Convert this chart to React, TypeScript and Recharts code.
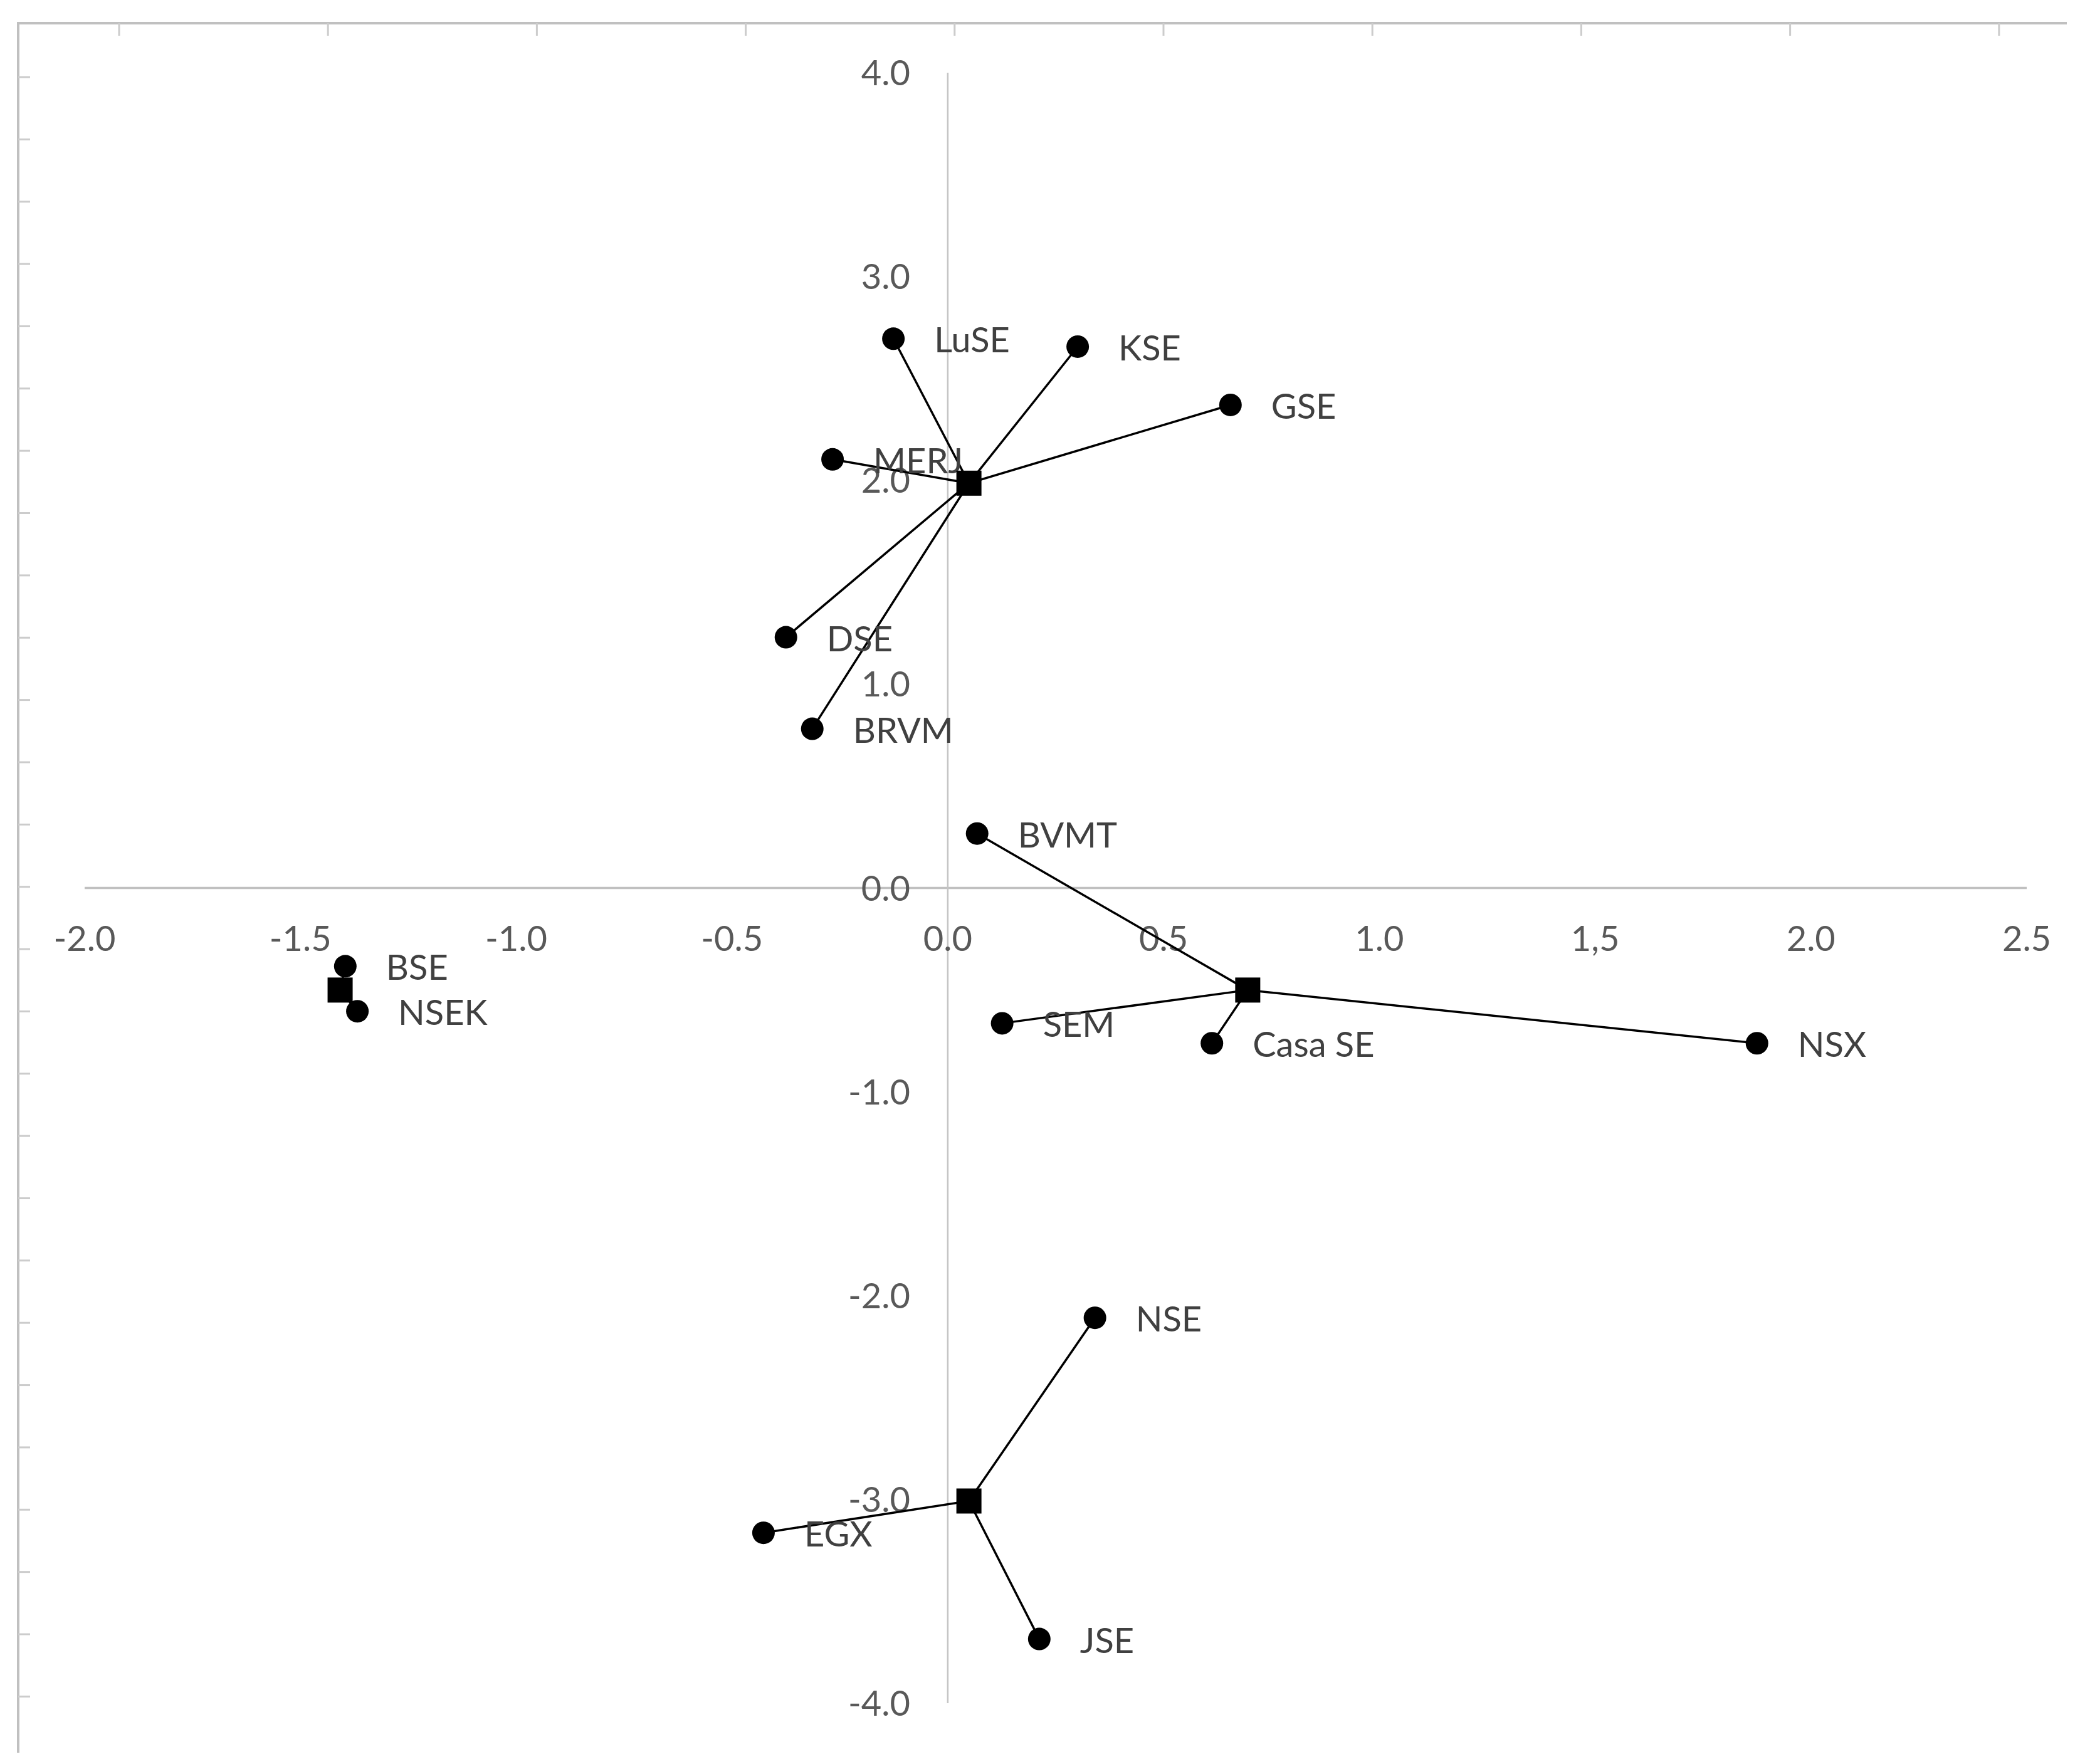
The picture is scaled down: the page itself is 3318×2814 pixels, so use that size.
import React from "react";
import {
  ReferenceDot,
  ReferenceLine,
  Scatter,
  ScatterChart,
  XAxis,
  YAxis,
} from "recharts";

// exchanges and their coordinates on the two dimensions
const exchanges = [
  "LuSE", "KSE", "GSE", "MERJ", "DSE", "BRVM",
  "BVMT", "SEM", "Casa SE", "NSX",
  "BSE", "NSEK",
  "NSE", "EGX", "JSE",
];
const dim1 = [
  -0.126, 0.301, 0.655, -0.267, -0.375, -0.314,
  0.068, 0.126, 0.612, 1.875,
  -1.396, -1.368,
  0.341, -0.427, 0.212,
];
const dim2 = [
  2.695, 2.656, 2.37, 2.103, 1.23, 0.781,
  0.267, -0.664, -0.762, -0.762,
  -0.384, -0.605,
  -2.109, -3.164, -3.685,
];
const clusterOf = [0, 0, 0, 0, 0, 0, 1, 1, 1, 1, 2, 2, 3, 3, 3];

// cluster centres (squares)
const centreX = [0.049, 0.695, -1.408, 0.049];
const centreY = [1.986, -0.501, -0.501, -3.008];

const xTicks = [-2, -1.5, -1, -0.5, 0, 0.5, 1, 1.5, 2, 2.5];
const xTickLabels = ["-2.0", "-1.5", "-1.0", "-0.5", "0.0", "0.5", "1.0", "1,5", "2.0", "2.5"];
const yTicks = [4, 3, 2, 1, 0, -1, -2, -3, -4];
const yTickLabels = ["4.0", "3.0", "2.0", "1.0", "0.0", "-1.0", "-2.0", "-3.0", "-4.0"];

const W = 3318;
const H = 2814;
const FONT = "Lato, 'Open Sans', sans-serif";
const FS = 56;
const HALF_CAP = 20; // baseline shift so caps sit centred on a y position

const points = exchanges.map((name, i) => ({ name, x: dim1[i], y: dim2[i] }));
const centres = centreX.map((x, c) => ({ x, y: centreY[c] }));

// one zig-zag path per cluster: centre -> point -> centre -> point ...
const stars = centres.map((c, k) => {
  const path: { x: number; y: number }[] = [];
  exchanges.forEach((_, i) => {
    if (clusterOf[i] === k) {
      path.push({ x: c.x, y: c.y });
      path.push({ x: dim1[i], y: dim2[i] });
    }
  });
  return path;
});

// the grey ruler frame around the scanned figure
function Frame() {
  const topTicks = Array.from({ length: 10 }, (_, k) => 190 + 333.2 * k);
  const leftTicks = Array.from({ length: 27 }, (_, k) => 123 + 99.36 * k);
  return (
    <svg width={W} height={H} style={{ position: "absolute", left: 0, top: 0 }}>
      <line x1={29} y1={37} x2={3297} y2={37} stroke="#c0c0c0" strokeWidth={4} />
      <line x1={29} y1={35} x2={29} y2={2796} stroke="#c0c0c0" strokeWidth={4} />
      {topTicks.map((x) => (
        <line key={x} x1={x} y1={37} x2={x} y2={57} stroke="#cccccc" strokeWidth={3} />
      ))}
      {leftTicks.map((y) => (
        <line key={y} x1={29} y1={y} x2={48} y2={y} stroke="#cccccc" strokeWidth={3} />
      ))}
    </svg>
  );
}

const PointShape = (props: any) => {
  const { cx, cy, payload } = props;
  return (
    <g>
      <circle cx={cx} cy={cy} r={18} fill="#000" />
      <text x={cx + 65} y={cy + 2 + HALF_CAP} fontFamily={FONT} fontSize={FS} fill="#404040">
        {payload.name}
      </text>
    </g>
  );
};

const SquareShape = (props: any) => {
  const { cx, cy } = props;
  return <rect x={cx - 20} y={cy - 20} width={40} height={40} fill="#000" />;
};

export default function App() {
  return (
    <div style={{ position: "absolute", left: 0, top: 0, width: W, height: H, background: "#fff" }}>
      <Frame />
      <div style={{ position: "absolute", left: 0, top: 0 }}>
        <ScatterChart
          width={W}
          height={H}
          margin={{ top: 116, right: 85, bottom: 97, left: 135 }}
        >
          <XAxis type="number" dataKey="x" domain={[-2, 2.5]} hide allowDataOverflow />
          <YAxis type="number" dataKey="y" domain={[-4, 4]} hide allowDataOverflow />
          <ReferenceLine y={0} stroke="#c0c0c0" strokeWidth={3.5} />
          <ReferenceLine x={0} stroke="#c4c4c4" strokeWidth={2.5} />
          {xTicks.map((v, i) => (
            <ReferenceDot
              key={"xt" + v}
              x={v}
              y={0}
              r={0}
              ifOverflow="visible"
              shape={(p: any) => (
                <text
                  x={p.cx}
                  y={p.cy + 80 + HALF_CAP}
                  textAnchor="middle"
                  fontFamily={FONT}
                  fontSize={FS}
                  fill="#595959"
                >
                  {xTickLabels[i]}
                </text>
              )}
            />
          ))}
          {yTicks.map((v, i) => (
            <ReferenceDot
              key={"yt" + v}
              x={0}
              y={v}
              r={0}
              ifOverflow="visible"
              shape={(p: any) => (
                <text
                  x={p.cx - 60}
                  y={p.cy + HALF_CAP}
                  textAnchor="end"
                  fontFamily={FONT}
                  fontSize={FS}
                  fill="#595959"
                >
                  {yTickLabels[i]}
                </text>
              )}
            />
          ))}
          {stars.map((path, k) => (
            <Scatter
              key={"star" + k}
              data={path}
              line={{ stroke: "#000", strokeWidth: 3.5, strokeLinejoin: "round" }}
              shape={() => <g />}
              isAnimationActive={false}
              legendType="none"
            />
          ))}
          <Scatter data={points} shape={PointShape} isAnimationActive={false} />
          <Scatter data={centres} shape={SquareShape} isAnimationActive={false} />
        </ScatterChart>
      </div>
    </div>
  );
}
